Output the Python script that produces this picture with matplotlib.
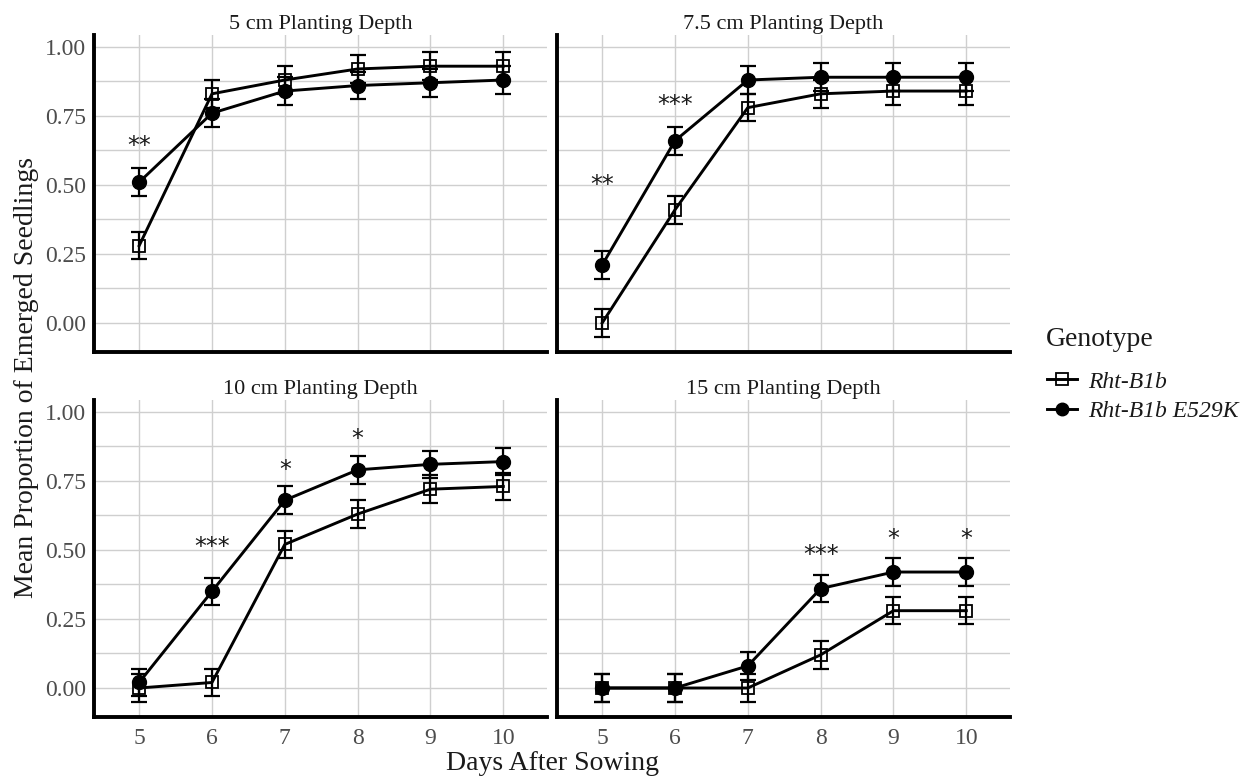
import matplotlib
import matplotlib.pyplot as plt
from matplotlib.lines import Line2D
from matplotlib.ticker import FormatStrFormatter, MultipleLocator

matplotlib.use("Agg")

plt.rcParams["font.family"] = ["Liberation Serif", "DejaVu Serif"]

days = [5, 6, 7, 8, 9, 10]
panels = ["5 cm Planting Depth", "7.5 cm Planting Depth",
          "10 cm Planting Depth", "15 cm Planting Depth"]

# mean proportion emerged, one list per panel
wt_means = [
    [0.28, 0.83, 0.88, 0.92, 0.93, 0.93],
    [0.00, 0.41, 0.78, 0.83, 0.84, 0.84],
    [0.00, 0.02, 0.52, 0.63, 0.72, 0.73],
    [0.00, 0.00, 0.00, 0.12, 0.28, 0.28],
]
mut_means = [
    [0.51, 0.76, 0.84, 0.86, 0.87, 0.88],
    [0.21, 0.66, 0.88, 0.89, 0.89, 0.89],
    [0.02, 0.35, 0.68, 0.79, 0.81, 0.82],
    [0.00, 0.00, 0.08, 0.36, 0.42, 0.42],
]
wt_err = [0.05] * 6
mut_err = [0.05] * 6

# significance labels: (day, y, label) per panel
signif = [
    [(5, 0.64, "**")],
    [(5, 0.50, "**"), (6, 0.79, "***")],
    [(6, 0.51, "***"), (7, 0.79, "*"), (8, 0.90, "*")],
    [(8, 0.48, "***"), (9, 0.54, "*"), (10, 0.54, "*")],
]

genotypes = ["Rht-B1b", "Rht-B1b E529K"]

W, H = 1255, 778
fig = plt.figure(figsize=(W / 100, H / 100), dpi=100)

lefts = [94, 557]
tops = [35, 400]
pw, ph = 453, 317

grid_col = "#cfcfcf"
tick_col = "#4d4d4d"
text_col = "#1a1a1a"

for i, title in enumerate(panels):
    r, c = divmod(i, 2)
    ax = fig.add_axes([lefts[c] / W, 1 - (tops[r] + ph) / H, pw / W, ph / H])
    ax.set_xlim(4.38, 10.6)
    ax.set_ylim(-0.105, 1.043)
    ax.set_xticks(days)
    ax.yaxis.set_major_locator(MultipleLocator(0.25))
    ax.yaxis.set_minor_locator(MultipleLocator(0.125))
    ax.yaxis.set_major_formatter(FormatStrFormatter("%.2f"))
    ax.grid(True, which="major", color=grid_col, lw=1.0)
    ax.grid(True, which="minor", axis="y", color=grid_col, lw=1.0)
    ax.set_axisbelow(True)
    for s in ["top", "right"]:
        ax.spines[s].set_visible(False)
    for s in ["left", "bottom"]:
        ax.spines[s].set_linewidth(2.8)
        ax.spines[s].set_color("black")
    ax.tick_params(which="both", length=0, labelsize=17, labelcolor=tick_col)
    ax.tick_params(axis="x", pad=8)
    ax.tick_params(axis="y", pad=6)
    if c == 1:
        ax.tick_params(labelleft=False)
    if r == 0:
        ax.tick_params(labelbottom=False)
    ax.set_title(title, fontsize=16, pad=4, color=text_col)

    ax.errorbar(days, wt_means[i], yerr=wt_err, fmt="none", ecolor="black",
                elinewidth=1.6, capsize=5.5, capthick=1.6, zorder=3)
    ax.errorbar(days, mut_means[i], yerr=mut_err, fmt="none", ecolor="black",
                elinewidth=1.6, capsize=5.5, capthick=1.6, zorder=3)
    ax.plot(days, wt_means[i], color="black", lw=2.1, marker="s", ms=9,
            mfc="none", mec="black", mew=1.3, zorder=4)
    ax.plot(days, mut_means[i], color="black", lw=2.1, marker="o", ms=10,
            mfc="black", mec="black", zorder=5)

    for d, y, lab in signif[i]:
        ax.text(d, y, lab, ha="center", va="center", fontsize=17,
                family="DejaVu Sans", color=text_col)

fig.text(27 / W, 1 - 377 / H, "Mean Proportion of Emerged Seedlings",
         rotation=90, ha="center", va="center", fontsize=20, color=text_col)
fig.text(552 / W, 1 - 764 / H, "Days After Sowing",
         ha="center", va="center", fontsize=20, color=text_col)

# legend: title drawn separately so the gap to the keys matches
fig.text(1046 / W, 1 - 340 / H, "Genotype", ha="left", va="center",
         fontsize=20, color=text_col)
handles = [
    Line2D([], [], color="black", lw=2.1, marker="s", ms=8, mfc="none",
           mec="black", mew=1.3),
    Line2D([], [], color="black", lw=2.1, marker="o", ms=9, mfc="black"),
]
leg = fig.legend(handles, genotypes, loc="upper left",
                 bbox_to_anchor=(1047 / W, 1 - 371 / H), frameon=False,
                 fontsize=17, borderpad=0, borderaxespad=0,
                 handlelength=1.25, handletextpad=0.5, labelspacing=0.35)
for t in leg.get_texts():
    t.set_fontstyle("italic")
    t.set_color(text_col)

fig.savefig("out.png", dpi=100)
